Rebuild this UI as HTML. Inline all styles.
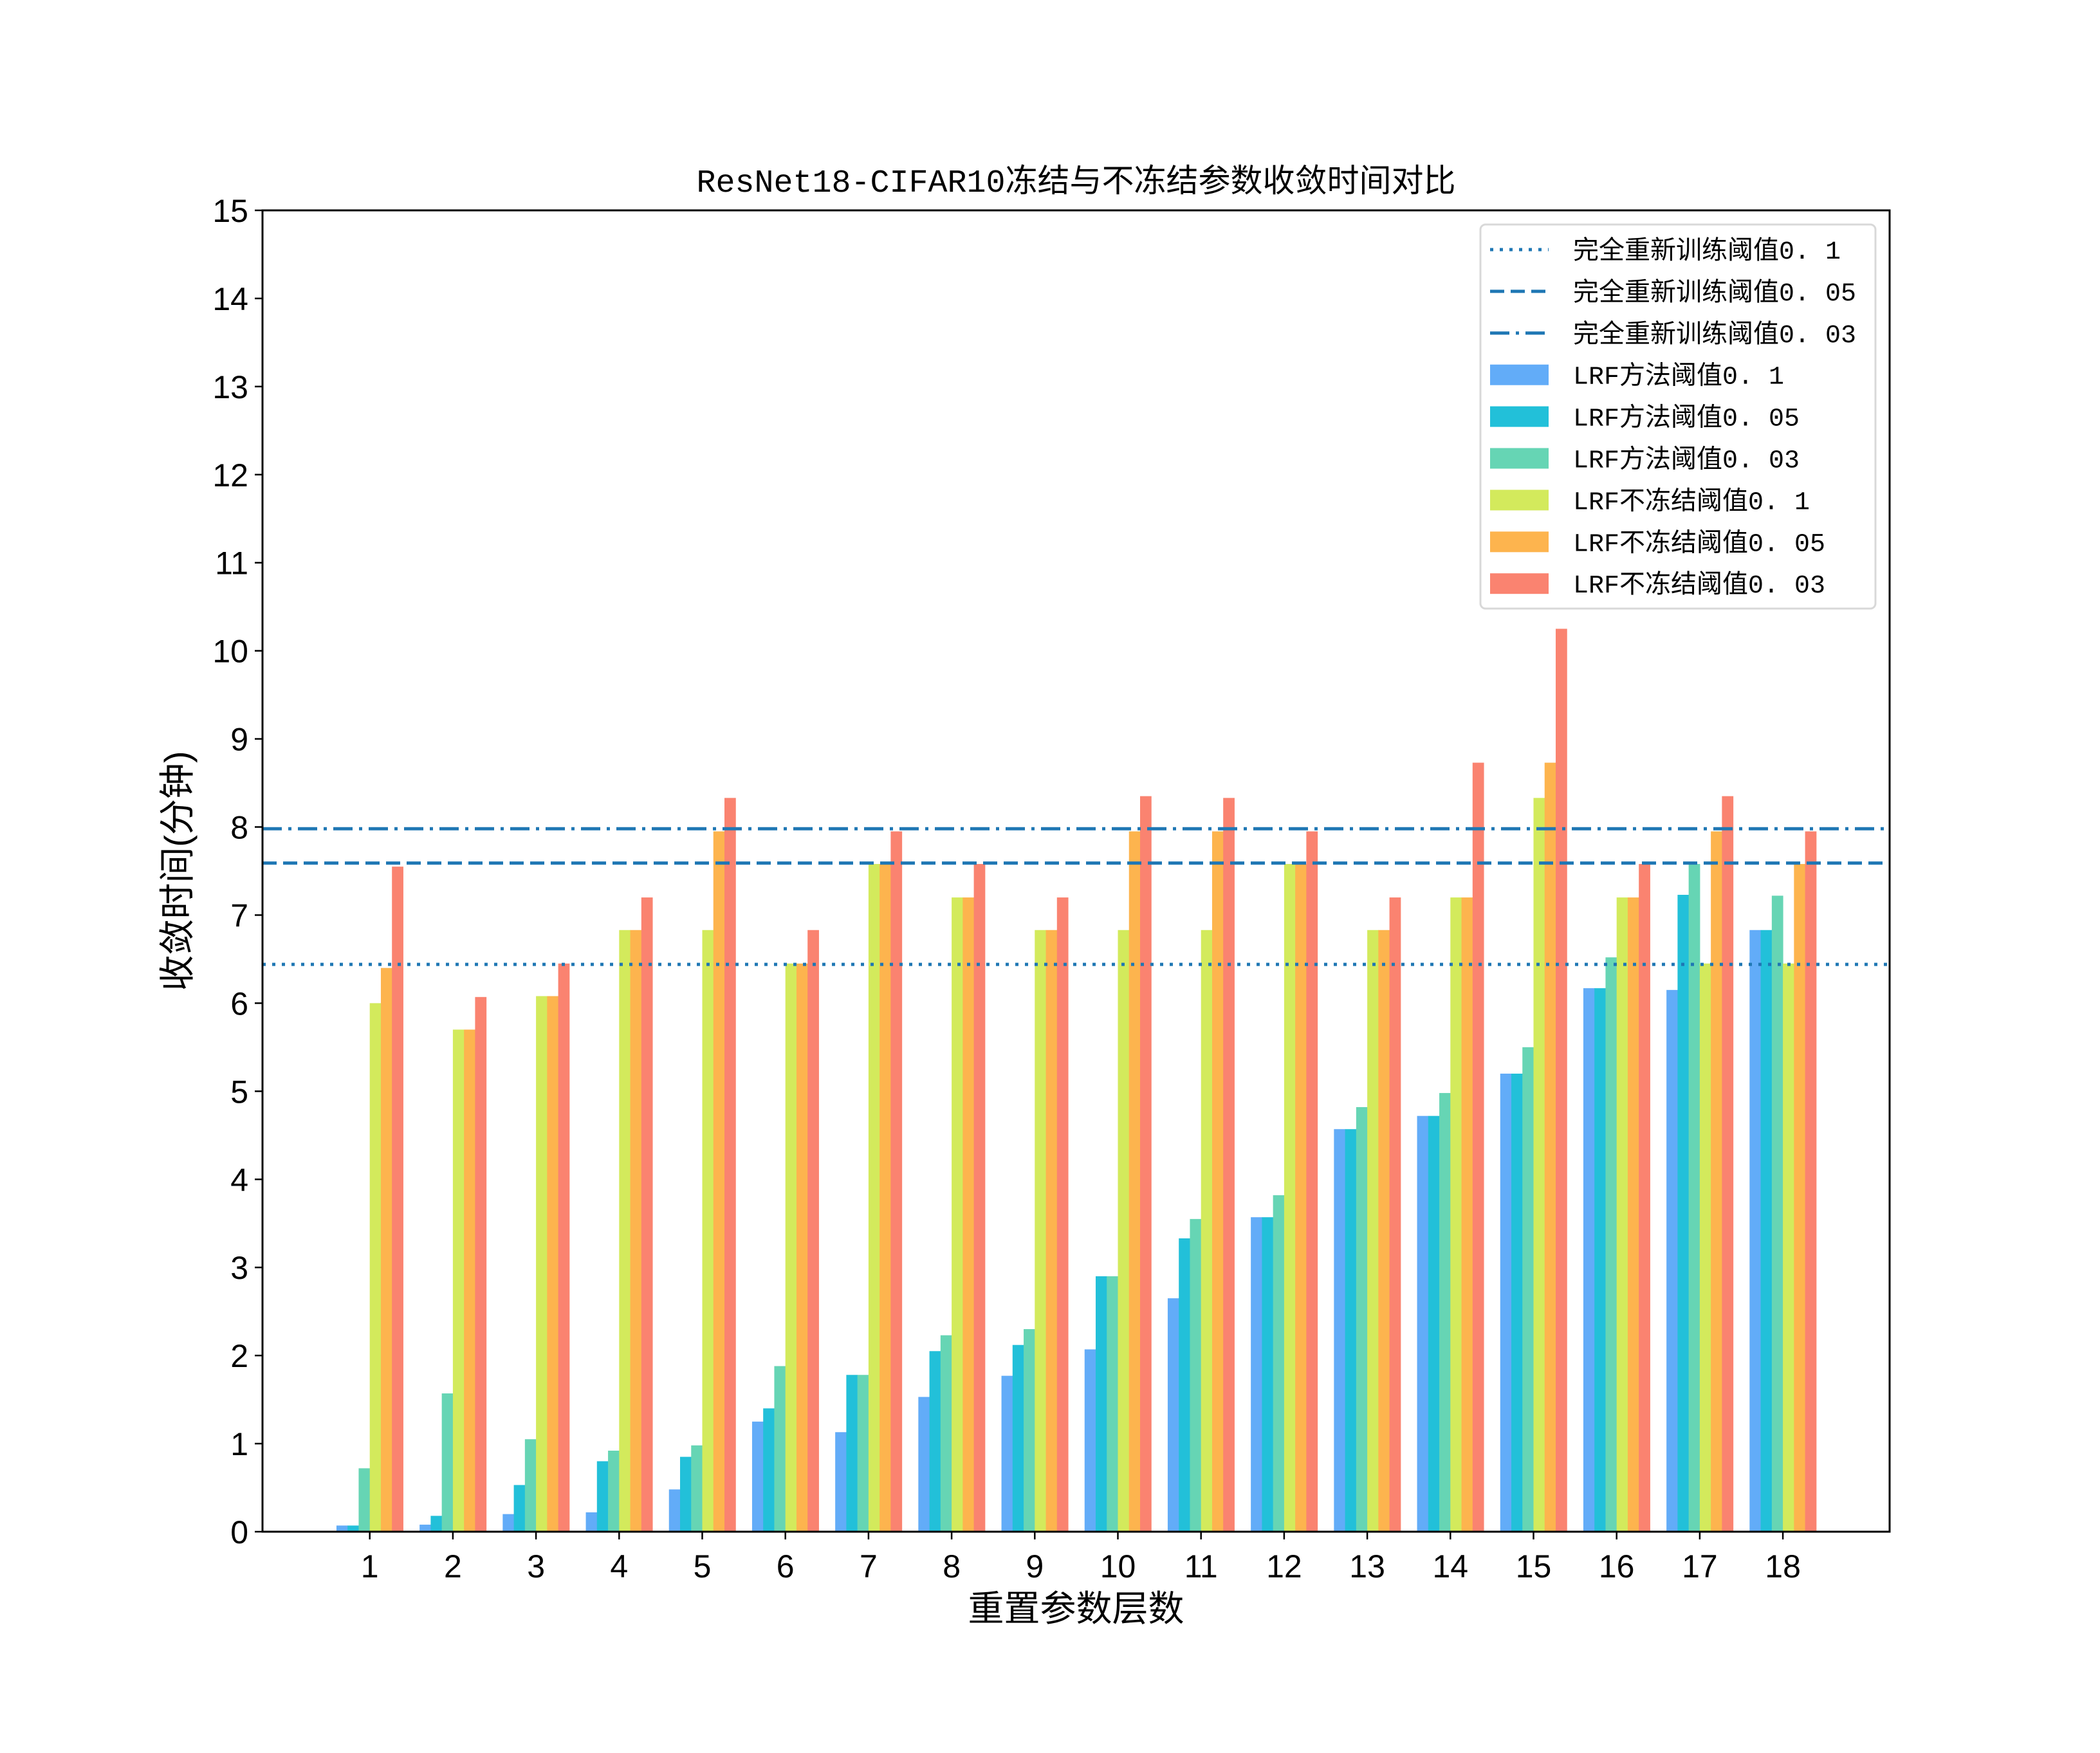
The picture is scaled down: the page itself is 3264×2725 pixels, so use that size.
<!DOCTYPE html>
<html><head><meta charset="utf-8">
<style>
html,body{margin:0;padding:0;background:#fff;}
svg text{font-family:"Liberation Sans","Noto Sans CJK SC",sans-serif;fill:#000;}
svg text.mono{font-family:"Liberation Mono","Noto Sans CJK SC",monospace;}
</style></head>
<body>
<svg id="chart" width="3264" height="2720" xmlns="http://www.w3.org/2000/svg">
<rect width="3264" height="2720" fill="#fff"/>
<g id="bars"></g>
<g id="hlines"></g>
<g id="axes"></g>
<g id="legend"></g>
</svg>
<script>
const categories = ["1","2","3","4","5","6","7","8","9","10","11","12","13","14","15","16","17","18"];
const lrf01  = [0.07,0.08,0.2,0.22,0.48,1.25,1.13,1.53,1.77,2.07,2.65,3.57,4.57,4.72,5.2,6.17,6.15,6.83];
const lrf005 = [0.07,0.18,0.53,0.8,0.85,1.4,1.78,2.05,2.12,2.9,3.33,3.57,4.57,4.72,5.2,6.17,7.23,6.83];
const lrf003 = [0.72,1.57,1.05,0.92,0.98,1.88,1.78,2.23,2.3,2.9,3.55,3.82,4.82,4.98,5.5,6.52,7.58,7.22];
const nf01   = [6.0,5.7,6.08,6.83,6.83,6.45,7.58,7.2,6.83,6.83,6.83,7.58,6.83,7.2,8.33,7.2,6.45,6.45];
const nf005  = [6.4,5.7,6.08,6.83,7.95,6.45,7.58,7.2,6.83,7.95,7.95,7.58,6.83,7.2,8.73,7.2,7.95,7.58];
const nf003  = [7.55,6.07,6.45,7.2,8.33,6.83,7.95,7.58,7.2,8.35,8.33,7.95,7.2,8.73,10.25,7.58,8.35,7.95];
const seriesNames = ["LRF方法阈值0. 1","LRF方法阈值0. 05","LRF方法阈值0. 03","LRF不冻结阈值0. 1","LRF不冻结阈值0. 05","LRF不冻结阈值0. 03"];
const hlineValues = [6.44,7.59,7.98];
const hlineNames = ["完全重新训练阈值0. 1","完全重新训练阈值0. 05","完全重新训练阈值0. 03"];
const yTicks = [0,1,2,3,4,5,6,7,8,9,10,11,12,13,14,15];

const NS="http://www.w3.org/2000/svg";
const colors=["#62acf8","#22c0d9","#66d5b4","#d3ea5c","#fdb44e","#fa8370"];
const dashes=["5,10","22,10","30,10,5,10"];
const L=408,R=2937,T=327,B=2381;
const yMin=0,yMax=15;
const tick0=574.7, tickStep=129.2;
function X(i){return tick0+i*tickStep;}
function Y(v){return B-(v-yMin)/(yMax-yMin)*(B-T);}
const barW=17.25;
function mk(tag,attrs,parent){const e=document.createElementNS(NS,tag);for(const k in attrs)e.setAttribute(k,attrs[k]);parent.appendChild(e);return e;}

const series=[lrf01,lrf005,lrf003,nf01,nf005,nf003];
const gb=document.getElementById('bars');
series.forEach((s,si)=>{
  s.forEach((v,i)=>{
    const x=X(i)+(si-3)*barW;
    const r=mk('rect',{x:x,y:Y(v),width:barW+0.5,height:Y(0)-Y(v),fill:colors[si]},gb);
    
    
  });
});
const gh=document.getElementById('hlines');
hlineValues.forEach((v,i)=>{
  const l=mk('line',{x1:L,x2:R,y1:Y(v),y2:Y(v),stroke:'#1f77b4','stroke-width':5,'stroke-dasharray':dashes[i]},gh);
  
  
});
const ga=document.getElementById('axes');
const frame=mk('rect',{x:L,y:T,width:R-L,height:B-T,fill:'none',stroke:'#000','stroke-width':3},ga);


yTicks.forEach(v=>{
  mk('line',{x1:L-12,x2:L,y1:Y(v),y2:Y(v),stroke:'#000','stroke-width':2.5},ga);
  const t=mk('text',{x:L-22,y:Y(v)+18,'text-anchor':'end','font-size':50},ga);
  t.textContent=v;
  
  
});
categories.forEach((c,i)=>{
  mk('line',{x1:X(i),x2:X(i),y1:B,y2:B+12,stroke:'#000','stroke-width':2.5},ga);
  const t=mk('text',{x:X(i),y:2452,'text-anchor':'middle','font-size':50},ga);
  t.textContent=c;
  
  
});
const title=mk('text',{x:(L+R)/2,y:298,'text-anchor':'middle','font-size':50,'class':'mono'},ga);
title.textContent="ResNet18-CIFAR10冻结与不冻结参数收敛时间对比";


const xl=mk('text',{x:(L+R)/2,y:2520,'text-anchor':'middle','font-size':56},ga);
xl.textContent="重置参数层数";


const yl=mk('text',{x:0,y:0,'text-anchor':'middle','font-size':56,transform:'translate(295,'+((T+B)/2)+') rotate(-90)'},ga);
yl.textContent="收敛时间(分钟)";



const gl=document.getElementById('legend');
const box=mk('rect',{x:2301,y:349,width:614,height:597,rx:8,fill:'#fff','fill-opacity':0.8,stroke:'#d8d8d8','stroke-width':3},gl);


const labels=hlineNames.concat(seriesNames);
labels.forEach((lab,i)=>{
  const cy=388+i*64.9;
  if(i<3){
    mk('line',{x1:2316,x2:2407,y1:cy,y2:cy,stroke:'#1f77b4','stroke-width':5,'stroke-dasharray':dashes[i]},gl);
  } else {
    mk('rect',{x:2316,y:cy-16,width:91,height:32,fill:colors[i-3]},gl);
  }
  const t=mk('text',{x:2445,y:cy+14,'font-size':40,'class':'mono'},gl);
  t.textContent=lab;
  
  
});
</script>
</body></html>
